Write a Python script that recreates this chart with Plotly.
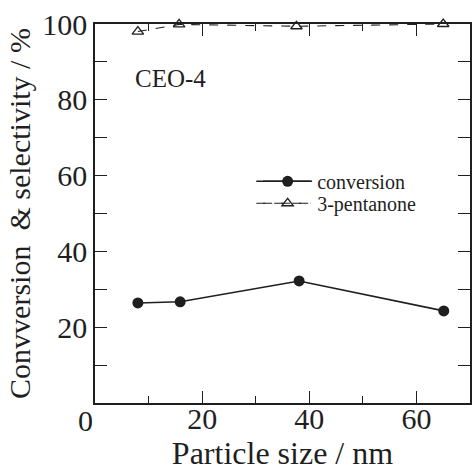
import plotly.graph_objects as go

particle_size = [8.0, 15.9, 38.1, 65.1]
conversion = [26.4, 26.7, 32.2, 24.3]
pentanone_size = [8.0, 15.7, 37.6, 65.0]
pentanone = [98.0, 99.9, 99.4, 100.0]

x_ticks = [20, 40, 60]
y_ticks = [20, 40, 60, 80, 100]
sample_label = "CEO-4"

INK = "#1f1f1f"
SERIF = "Liberation Serif"

fig = go.Figure()
fig.add_trace(go.Scatter(
    x=particle_size, y=conversion, name="conversion",
    mode="lines+markers",
    line=dict(color=INK, width=1.6),
    marker=dict(symbol="circle", size=11, color=INK),
    legend="legend",
))
fig.add_trace(go.Scatter(
    x=pentanone_size, y=pentanone, name="3-pentanone",
    mode="lines+markers",
    line=dict(color=INK, width=1.1, dash="dash"),
    marker=dict(symbol="triangle-up-open", size=10, color=INK, line=dict(width=1.3, color=INK)),
    cliponaxis=False,
    legend="legend2",
))

axis_common = dict(
    showgrid=False, zeroline=False, showline=True, linecolor=INK, linewidth=1.6,
    mirror="allticks", ticks="inside", ticklen=12, tickwidth=1.4, tickcolor=INK,
    tickfont=dict(family=SERIF, size=30, color=INK),
)

fig.update_layout(
    xaxis=dict(
        range=[0, 70], tickvals=x_ticks, showticklabels=False,
        minor=dict(dtick=10, tick0=0, ticks="inside", ticklen=7, tickwidth=1.2, tickcolor=INK),
        **axis_common,
    ),
    # label-only copy of the x axis, sitting a little higher so the numbers hug the frame
    xaxis2=dict(
        matches="x", overlaying="x", anchor="free", position=0.014, side="bottom",
        showline=False, showgrid=False, zeroline=False, ticks="",
        tickvals=x_ticks, ticktext=[str(v) for v in x_ticks],
        tickfont=dict(family=SERIF, size=30, color=INK),
        title=dict(text="Particle size / nm", font=dict(family=SERIF, size=32, color=INK), standoff=4),
    ),
    yaxis=dict(
        range=[0, 100], tickvals=y_ticks, ticktext=[str(v) for v in y_ticks],
        minor=dict(dtick=10, tick0=0, ticks="inside", ticklen=7, tickwidth=1.2, tickcolor=INK),
        title=dict(text="Convversion  & selectivity / %", font=dict(family=SERIF, size=30, color=INK), standoff=3),
        **axis_common,
    ),
)
# invisible helper trace so the label axis is drawn
fig.add_trace(go.Scatter(x=particle_size, y=conversion, xaxis="x2", yaxis="y",
                         mode="markers", marker=dict(opacity=0), showlegend=False, hoverinfo="skip"))

fig.add_annotation(x=0, y=0, xref="x", yref="y", text="0", showarrow=False,
                   xshift=-10, yshift=-17, font=dict(family=SERIF, size=30, color=INK))
fig.add_annotation(x=0.10, y=0.855, xref="paper", yref="paper", text=sample_label, showarrow=False,
                   xanchor="left", yanchor="middle", font=dict(family=SERIF, size=25, color=INK))

# longer legend sample lines (decoration)
fig.add_shape(type="line", xref="paper", yref="paper", x0=0.430, x1=0.575, y0=0.585, y1=0.585,
              line=dict(color=INK, width=1.6))
fig.add_shape(type="line", xref="paper", yref="paper", x0=0.430, x1=0.575, y0=0.527, y1=0.527,
              line=dict(color=INK, width=1.1, dash="dash"))

legend_common = dict(xanchor="left", yanchor="middle",
                     font=dict(family=SERIF, size=20, color=INK),
                     bgcolor="rgba(0,0,0,0)", itemwidth=49, borderwidth=0)

fig.update_layout(
    width=472, height=472,
    margin=dict(l=95, r=0, t=24, b=69),
    paper_bgcolor="white", plot_bgcolor="white",
    showlegend=True,
    legend=dict(x=0.435, y=0.585, **legend_common),
    legend2=dict(x=0.435, y=0.527, **legend_common),
)

fig.write_html("out.html")
